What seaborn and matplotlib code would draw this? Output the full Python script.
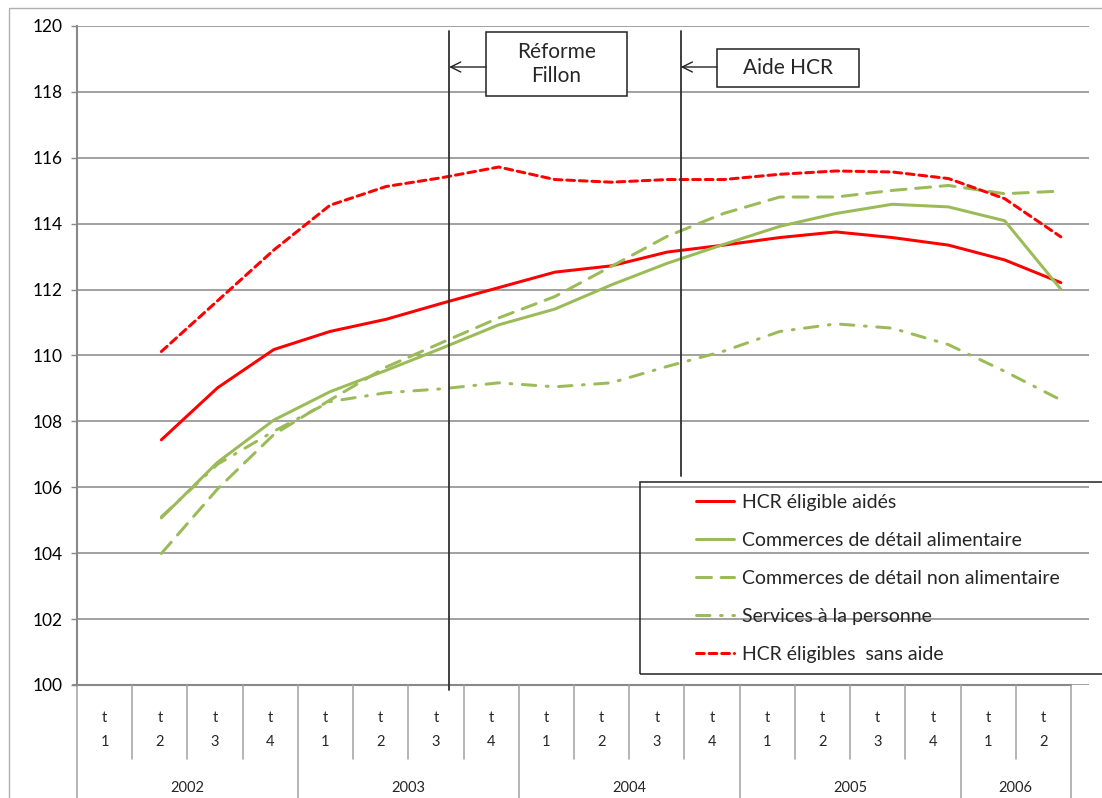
import numpy as np
import pandas as pd
import matplotlib
matplotlib.use("Agg")
import matplotlib.pyplot as plt
import seaborn as sns
from matplotlib.patches import Rectangle

# ---------------- data ----------------
years = ["2002", "2003", "2004", "2005", "2006"]
quarters_per_year = [4, 4, 4, 4, 2]
quarter_numbers = [1, 2, 3, 4, 1, 2, 3, 4, 1, 2, 3, 4, 1, 2, 3, 4, 1, 2]

hcr_aides = [107.44, 109.02, 110.18, 110.73, 111.10, 111.59, 112.06, 112.53, 112.72,
             113.14, 113.35, 113.58, 113.75, 113.58, 113.35, 112.90, 112.21]
com_alim = [105.07, 106.76, 108.04, 108.90, 109.55, 110.23, 110.93, 111.41, 112.14,
            112.80, 113.37, 113.92, 114.31, 114.59, 114.51, 114.09, 112.01]
com_non_alim = [103.99, 105.95, 107.60, 108.65, 109.65, 110.40, 111.14, 111.79, 112.70,
                113.62, 114.31, 114.81, 114.81, 115.01, 115.16, 114.91, 114.99]
services = [105.10, 106.70, 107.70, 108.60, 108.87, 108.99, 109.17, 109.05, 109.17,
            109.67, 110.13, 110.73, 110.96, 110.83, 110.33, 109.52, 108.65]
hcr_sans_aide = [110.12, 111.66, 113.20, 114.56, 115.13, 115.40, 115.72, 115.34, 115.26,
                 115.34, 115.34, 115.50, 115.60, 115.57, 115.37, 114.76, 113.60]

series_names = ["HCR éligible aidés", "Commerces de détail alimentaire",
                "Commerces de détail non alimentaire", "Services à la personne",
                "HCR éligibles  sans aide"]
series_values = [hcr_aides, com_alim, com_non_alim, services, hcr_sans_aide]

first_index = 1  # data starts at 2002 t2
reform_x, aide_x = 6.12, 10.24  # event markers (category units)

RED = "#FF0000"
GREEN = "#9BBB59"
colors = [RED, GREEN, GREEN, GREEN, RED]
dash_styles = [None, None, (5.0, 3.2), (4.5, 3.5, 0.6, 3.5), (2.6, 1.6)]

# ---------------- figure ----------------
sns.set_theme(style="white")
plt.rcParams["font.family"] = ["Lato", "DejaVu Sans"]

W, H = 1102, 798
fig = plt.figure(figsize=(W / 100, H / 100), dpi=100)
ax_l, ax_r, ax_t, ax_b = 77, 1089, 26, 685
ax = fig.add_axes([ax_l / W, 1 - ax_b / H, (ax_r - ax_l) / W, (ax_b - ax_t) / H])

rows = []
for name, vals in zip(series_names, series_values):
    for i, v in enumerate(vals):
        rows.append({"pos": first_index + i, "value": v, "series": name})
df = pd.DataFrame(rows)

lw = 3 * 0.72
for name, col, dsh in zip(series_names, colors, dash_styles):
    sub = df[df["series"] == name]
    sns.lineplot(data=sub, x="pos", y="value", ax=ax, color=col, linewidth=lw,
                 label=name, legend=False, sort=False)
    ln = ax.lines[-1]
    ln.set_solid_joinstyle("round")
    ln.set_dash_capstyle("round")
    if dsh is not None:
        ln.set_dashes(dsh)

ncat = sum(quarters_per_year)
ax.set_xlim(-0.5, ncat - 0.5)
ax.set_ylim(100, 120)
ax.set_yticks(np.arange(100, 121, 2))
ax.set_xticks([])
ax.set_xlabel("")
ax.set_ylabel("")
ax.grid(axis="y", color="#9a9a9a", linewidth=1.3)
ax.tick_params(axis="y", direction="out", length=4, width=1, color="#888888",
               labelsize=12.5, pad=6, left=True, labelcolor="black")
for s in ["top", "right", "bottom"]:
    ax.spines[s].set_visible(False)
ax.spines["left"].set_color("#888888")
ax.spines["left"].set_linewidth(1.5)

# ---------------- category table below ----------------
table_w = (1071 - ax_l) / (ax_r - ax_l)
col_w = table_w / ncat
ah = ax_b - ax_t
y_q_end = -(759 - ax_b) / ah
y_bottom = -(820 - ax_b) / ah
tr = ax.transAxes
ax.plot([-0.004, table_w], [0, 0], transform=tr, color="#888888", lw=1.5, clip_on=False)
year_bounds = np.cumsum([0] + quarters_per_year)
for k in range(ncat + 1):
    xk = k * col_w
    if k in year_bounds:
        ax.plot([xk, xk], [0, y_bottom], transform=tr, color="#a0a0a0", lw=1.1, clip_on=False)
    else:
        ax.plot([xk, xk], [0, y_q_end], transform=tr, color="#a0a0a0", lw=1.1, clip_on=False)
for k, q in enumerate(quarter_numbers):
    xc = (k + 0.5) * col_w
    ax.text(xc, -(718 - ax_b) / ah, "t", transform=tr, ha="center", va="center", fontsize=10.5)
    ax.text(xc, -(742 - ax_b) / ah, str(q), transform=tr, ha="center", va="center", fontsize=10.5)
for yi, yr in enumerate(years):
    xc = (year_bounds[yi] + year_bounds[yi + 1]) / 2 * col_w
    ax.text(xc, -(788 - ax_b) / ah, yr, transform=tr, ha="center", va="center", fontsize=10.5)

# ---------------- event lines and boxes ----------------
def px2val(py):
    return 120 - (py - ax_t) / ah * 20

def px2cat(px):
    return (px - ax_l) / (ax_r - ax_l) * ncat - 0.5

ax.plot([reform_x, reform_x], [px2val(31), px2val(690)], color="#303030", lw=1.3, clip_on=False)
ax.plot([aide_x, aide_x], [px2val(31), px2val(476)], color="#303030", lw=1.3, clip_on=False)

def event_box(x0, x1, y0, y1, text, tx_target):
    cx0, cx1 = px2cat(x0), px2cat(x1)
    vy0, vy1 = px2val(y1), px2val(y0)
    ax.add_patch(Rectangle((cx0, vy0), cx1 - cx0, vy1 - vy0, facecolor="white",
                           edgecolor="#222222", lw=1.1, zorder=5, clip_on=False))
    ax.text((cx0 + cx1) / 2, (vy0 + vy1) / 2, text, ha="center", va="center",
            fontsize=15, linespacing=1.25, zorder=6)
    ax.annotate("", xy=(tx_target, px2val(67)), xytext=(cx0, px2val(67)),
                arrowprops=dict(arrowstyle="->", color="#222222", lw=1.0,
                                mutation_scale=18, shrinkA=0, shrinkB=0), zorder=6)

event_box(486, 627, 32, 96, "Réforme\nFillon", reform_x)
event_box(717, 859, 49, 87, "Aide HCR", aide_x)

# ---------------- legend ----------------
ax.add_patch(Rectangle((640 / W, 1 - 674 / H), (1120 - 640) / W, (674 - 482) / H,
                       transform=fig.transFigure, facecolor="none", edgecolor="#222222",
                       lw=1.1, clip_on=False))
handles, labels = ax.get_legend_handles_labels()
leg = ax.legend(handles, labels, loc="upper left",
                bbox_to_anchor=(680 / W, 1 - 478 / H), bbox_transform=fig.transFigure,
                frameon=False, fontsize=14, handlelength=2.0, handletextpad=0.4,
                labelspacing=1.08, borderpad=0.3)

# outer chart border
fig.patches.append(Rectangle((9 / W, -0.1), 1.2, 1 - 8 / H + 0.1, transform=fig.transFigure,
                             facecolor="none", edgecolor="#b0b0b0", lw=1.0))

fig.savefig("out.png", dpi=100)
